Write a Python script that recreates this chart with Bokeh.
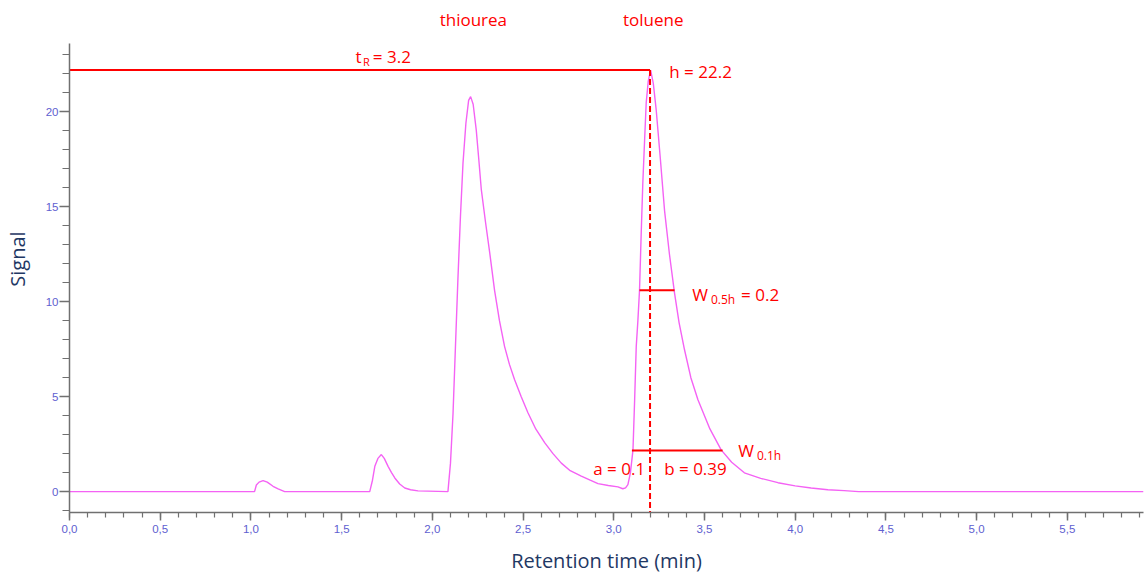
from bokeh.plotting import figure
from bokeh.models import Label, SingleIntervalTicker, CustomJSTickFormatter, Range1d
from bokeh.embed import file_html
from bokeh.resources import INLINE

# ---- data ----
time_min = [0.0, 1.02, 1.03, 1.045, 1.067, 1.09, 1.122, 1.15, 1.186,
            1.655, 1.67, 1.683, 1.70, 1.719, 1.735, 1.756, 1.775, 1.793, 1.82, 1.848, 1.88, 1.921,
            2.086, 2.10, 2.114, 2.128, 2.141, 2.155, 2.169, 2.185, 2.20, 2.211, 2.225, 2.242,
            2.256, 2.27, 2.293, 2.316, 2.343, 2.37, 2.398, 2.425, 2.453, 2.49, 2.527, 2.57,
            2.619, 2.665, 2.711, 2.76, 2.821, 2.87, 2.913, 2.97, 3.023, 3.05,
            3.065, 3.078, 3.092, 3.106, 3.115, 3.124, 3.133, 3.142, 3.151, 3.16, 3.17, 3.179,
            3.19, 3.203, 3.218, 3.234, 3.257, 3.28, 3.307, 3.335, 3.36, 3.39, 3.425, 3.464,
            3.53, 3.592, 3.65, 3.72, 3.81, 3.905, 4.0, 4.088, 4.18, 4.27, 4.35, 5.92]
signal = [0, 0, 0.35, 0.5, 0.58, 0.5, 0.28, 0.14, 0,
          0, 0.6, 1.33, 1.75, 1.95, 1.75, 1.33, 1.0, 0.72, 0.4, 0.19, 0.1, 0.04,
          0, 1.5, 4.1, 7.8, 11.2, 14.5, 17.3, 19.4, 20.6, 20.8, 20.4, 19.05,
          17.5, 15.9, 14.2, 12.6, 10.6, 9.0, 7.65, 6.7, 5.9, 5.0, 4.15, 3.3,
          2.58, 2.0, 1.5, 1.1, 0.81, 0.6, 0.42, 0.32, 0.25, 0.15,
          0.2, 0.37, 1.0, 2.2, 4.8, 7.65, 9.0, 10.6, 13.5, 16.2, 18.5, 20.5,
          21.6, 22.2, 21.5, 20.1, 17.5, 14.8, 12.5, 10.45, 8.9, 7.47, 6.0, 4.84,
          3.3, 2.2, 1.55, 0.99, 0.7, 0.47, 0.3, 0.19, 0.1, 0.05, 0, 0]

t_R = 3.2
h = 22.2
half_h = 10.6
tenth_h = 2.16
w05_left, w05_right = 3.142, 3.335
w01_left, w01_right = 3.10, 3.60
peak_names = ["thiourea", "toluene"]
peak_pos = [2.226, 3.218]

RED = "#ff0000"
FONT = "Open Sans"
Y_MIN, Y_AXIS_TOP, Y_MAX = -1.1, 23.6, 25.6

p = figure(width=1145, height=576, output_backend="svg", toolbar_location=None,
           x_range=Range1d(0, 5.92), y_range=Range1d(Y_MIN, Y_MAX),
           min_border_left=68, min_border_right=2, min_border_top=5, min_border_bottom=63)
p.outline_line_color = None
p.xgrid.visible = False
p.ygrid.visible = False
p.background_fill_color = "white"
p.border_fill_color = "white"

p.line(time_min, signal, line_color="#f462f4", line_width=1.4)

# annotations
p.line([0, t_R], [h, h], line_color=RED, line_width=2)
p.line([t_R, t_R], [h, Y_MIN], line_color=RED, line_width=2, line_dash="6 3")
p.line([w05_left, w05_right], [half_h, half_h], line_color=RED, line_width=2)
p.line([w01_left, w01_right], [tenth_h, tenth_h], line_color=RED, line_width=2)

def lab(x, y, text, size=17, align="left"):
    p.add_layout(Label(x=x, y=y, text=text, text_color=RED, text_font=FONT,
                       text_font_size=f"{size}px", text_align=align, text_baseline="middle"))

for name, pos in zip(peak_names, peak_pos):
    lab(pos, 24.84, name, align="center")

lab(1.576, 22.9, "t")
lab(1.618, 22.66, "R", size=11)
lab(1.672, 22.9, f"= {t_R}")
lab(3.306, 22.1, f"h = {h}")
lab(3.433, 10.37, "W")
lab(3.536, 10.12, "0.5h", size=12)
lab(3.702, 10.37, "= 0.2")
lab(3.686, 2.16, "W")
lab(3.789, 1.92, "0.1h", size=12)
lab(2.887, 1.21, "a = 0.1")
lab(3.278, 1.21, "b = 0.39")

# axes
p.xaxis.ticker = SingleIntervalTicker(interval=0.5, num_minor_ticks=5)
p.yaxis.ticker = SingleIntervalTicker(interval=5, num_minor_ticks=5)
p.yaxis.bounds = (Y_MIN, Y_AXIS_TOP)
p.xaxis.formatter = CustomJSTickFormatter(code="return tick.toFixed(1).replace('.', ',');")
for ax in (p.xaxis[0], p.yaxis[0]):
    ax.axis_line_color = "#707070"
    ax.axis_line_width = 1.5
    ax.major_tick_line_color = "#707070"
    ax.minor_tick_line_color = "#707070"
    ax.major_tick_line_width = 1.5
    ax.minor_tick_line_width = 1.2
    ax.major_tick_in = 0
    ax.minor_tick_in = 0
    ax.major_label_text_color = "#6060d0"
    ax.major_label_text_font = "Liberation Sans"
    ax.major_label_text_font_size = "11.5px"
    ax.axis_label_text_color = "#1f3864"
    ax.axis_label_text_font = FONT
    ax.axis_label_text_font_size = "20px"
    ax.axis_label_text_font_style = "normal"
p.xaxis.major_tick_out = 8
p.xaxis.minor_tick_out = 5
p.yaxis.major_tick_out = 10
p.yaxis.minor_tick_out = 7
p.xaxis.major_label_standoff = 4
p.yaxis.major_label_standoff = 1
p.xaxis.axis_label = "Retention time (min)"
p.yaxis.axis_label = "Signal"
p.xaxis.axis_label_standoff = 11
p.yaxis.axis_label_standoff = 12

open("out.html", "w").write(file_html(p, INLINE))
